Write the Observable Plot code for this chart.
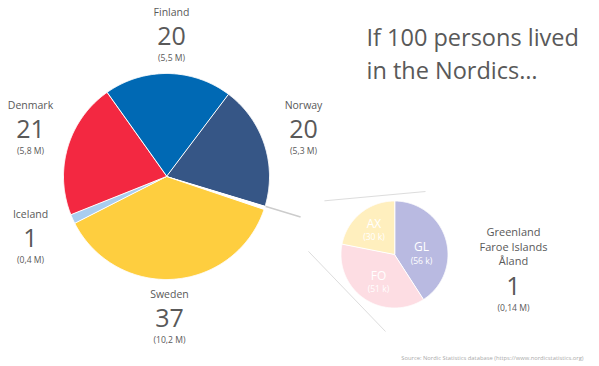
<!DOCTYPE html>
<html>
<head>
<meta charset="utf-8">
<script src="https://cdn.jsdelivr.net/npm/d3@7"></script>
<script src="https://cdn.jsdelivr.net/npm/@observablehq/plot@0.6"></script>
<style>
  html, body { margin: 0; padding: 0; background: #fff; }
  #chart { width: 599px; height: 366px; }
</style>
</head>
<body>
<div id="chart"></div>
<script>
// ---- Data ----
const countries   = ["Finland", "Norway", "Other", "Sweden", "Iceland", "Denmark"];
const populationM = [5.5, 5.3, 0.14, 10.2, 0.4, 5.8];
const persons     = [20, 20, 1, 37, 1, 21];
const popLabels   = ["(5,5 M)", "(5,3 M)", "(0,14 M)", "(10,2 M)", "(0,4 M)", "(5,8 M)"];
const otherNames  = ["Greenland", "Faroe Islands", "Åland"];
const subCodes    = ["GL", "FO", "AX"];
const subPopK     = [56, 51, 30];
const subLabels   = ["(56 k)", "(51 k)", "(30 k)"];
const titleLines  = ["If 100 persons lived", "in the Nordics…"];
const sourceText  = "Source: Nordic Statistics database (https://www.nordicstatistics.org)";

// ---- Layout ----
const W = 599, H = 366;
const FONT = "'Open Sans', 'Noto Sans', sans-serif";
const TXT = "#595959";
const main = {cx: 166, cy: 176, r: 103, start: -35.4};
const sub = {cx: 394, cy: 254, r: 53.5, start: 0};
const colors = {
  Finland: "#0069B4", Norway: "#365686", Other: "#FFFFFF", Sweden: "#FECE3F",
  Iceland: "#A9CDEF", Denmark: "#F32841",
  GL: "#B9BAE1", FO: "#FDDDE3", AX: "#FFEFBE"
};
const rad = d => d * Math.PI / 180;

function slices(keys, values, g) {
  const total = d3.sum(values);
  const rows = [];
  const mids = [];
  let a = g.start;
  keys.forEach((k, i) => {
    const span = values[i] / total * 360;
    const a0 = a, a1 = a + span;
    const n = Math.max(2, Math.ceil(span / 0.5));
    rows.push({slice: k, x: g.cx, y: g.cy});
    for (let j = 0; j <= n; j++) {
      const t = rad(a0 + (a1 - a0) * j / n);
      rows.push({slice: k, x: g.cx + g.r * Math.sin(t), y: g.cy - g.r * Math.cos(t)});
    }
    mids.push({key: k, a0, a1});
    a = a1;
  });
  return {rows, mids};
}

const mainPie = slices(countries, populationM, main);
const subPie = slices(subCodes, subPopK, sub);

// connector lines from the small "Other" slice toward the secondary pie
const other = mainPie.mids.find(m => m.key === "Other");
const pAt = (g, ang, rr) => ({x: g.cx + rr * Math.sin(rad(ang)), y: g.cy - rr * Math.cos(rad(ang))});
const p0 = pAt(main, other.a0, main.r);
const p1 = pAt(main, other.a0, main.r * 1.36);
const tTop = {x: sub.cx + 31, y: sub.cy - 63};
const tBot = {x: sub.cx - 9, y: sub.cy + 77};
const lerp = (a, b, t) => ({x: a.x + (b.x - a.x) * t, y: a.y + (b.y - a.y) * t});
const seg = (a, b, t) => { const s = lerp(a, b, t); return {x1: s.x, y1: s.y, x2: b.x, y2: b.y}; };
const connectors = [
  {x1: p0.x, y1: p0.y, x2: p1.x, y2: p1.y, c: "#CCCCCC", w: 1.4},
  {...seg(p0, tTop, 0.37), c: "#DDDDDD", w: 1},
  {...seg(p0, tBot, 0.36), c: "#DDDDDD", w: 1}
];

// ---- Labels ----
const labelPos = {
  Finland: [171, 12], Norway: [303, 105], Sweden: [169, 294],
  Iceland: [30, 214], Denmark: [30, 105]
};
const nameRows = [], bigRows = [], smallRows = [];
countries.forEach((c, i) => {
  if (!labelPos[c]) return;
  const [x, y] = labelPos[c];
  nameRows.push({x, y, t: c, fs: 10.5});
  bigRows.push({x, y: y + 24.5, t: String(persons[i])});
  smallRows.push({x, y: y + 46, t: popLabels[i]});
});
const oi = countries.indexOf("Other");
otherNames.forEach((n, i) => nameRows.push({x: 513, y: 232 + i * 14.7, t: n, fs: 11}));
bigRows.push({x: 513, y: 286, t: String(persons[oi])});
smallRows.push({x: 513, y: 307.5, t: popLabels[oi]});

const subPos = {GL: [421, 247], FO: [378, 275.5], AX: [373.5, 223.5]};
const subCodeRows = subCodes.map(k => ({x: subPos[k][0], y: subPos[k][1], t: k}));
const subValRows = subCodes.map((k, i) => ({x: subPos[k][0], y: subPos[k][1] + 13.5, t: subLabels[i]}));

const chart = Plot.plot({
  width: W, height: H, margin: 0,
  x: {domain: [0, W], range: [0, W], axis: null},
  y: {domain: [0, H], range: [0, H], axis: null},
  color: {domain: Object.keys(colors), range: Object.values(colors)},
  style: {fontFamily: FONT, background: "#fff"},
  marks: [
    Plot.link(connectors, {x1: "x1", y1: "y1", x2: "x2", y2: "y2", stroke: d => d.c, strokeWidth: d => d.w}),
    Plot.line(mainPie.rows, {x: "x", y: "y", z: "slice", fill: "slice", stroke: "#fff", strokeWidth: 1, curve: "linear-closed"}),
    Plot.line(subPie.rows, {x: "x", y: "y", z: "slice", fill: "slice", stroke: "#fff", strokeWidth: 1, curve: "linear-closed"}),
    Plot.text(nameRows, {x: "x", y: "y", text: "t", fill: TXT, fontSize: d => d.fs, fontFamily: FONT}),
    Plot.text(bigRows, {x: "x", y: "y", text: "t", fill: TXT, fontSize: 25, fontWeight: 400, fontFamily: FONT}),
    Plot.text(smallRows, {x: "x", y: "y", text: "t", fill: TXT, fontSize: 8.6, fontFamily: FONT}),
    Plot.text(subCodeRows, {x: "x", y: "y", text: "t", fill: "#fff", fontSize: 12, fontFamily: FONT}),
    Plot.text(subValRows, {x: "x", y: "y", text: "t", fill: "#fff", fontSize: 8.6, fontFamily: FONT}),
    Plot.text(titleLines.map((t, i) => ({x: 366, y: 38 + i * 33, t})), {x: "x", y: "y", text: "t", textAnchor: "start", fill: TXT, fontSize: 23.5, fontFamily: FONT}),
    Plot.text([{x: 583, y: 357.5, t: sourceText}], {x: "x", y: "y", text: "t", textAnchor: "end", fill: "#AAAAAA", fontSize: 5.8, fontFamily: FONT})
  ]
});
document.getElementById("chart").appendChild(chart);
</script>
</body>
</html>
